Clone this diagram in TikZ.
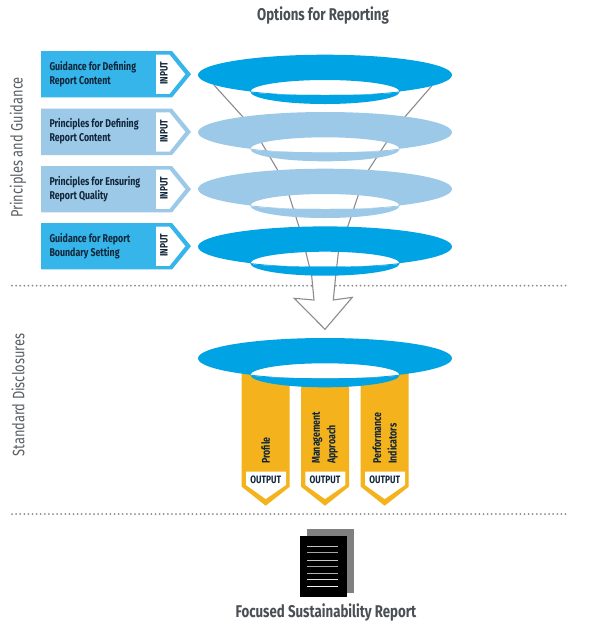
\documentclass[tikz,border=0pt]{standalone}
\usepackage{fontspec}
\setmainfont[FakeStretch=0.78]{Fira Sans}
\definecolor{ringblue}{HTML}{00A4E4}
\definecolor{ringlight}{HTML}{9DC9E8}
\definecolor{boxblue}{HTML}{35B5E9}
\definecolor{orangebar}{HTML}{F4B21C}
\definecolor{inktext}{HTML}{10263A}
\definecolor{headtext}{HTML}{4A4F55}
\definecolor{sidetext}{HTML}{5A5F64}
\definecolor{funnelgray}{HTML}{8C8C8C}
\definecolor{dotgray}{HTML}{8A8A8A}
\tikzset{
  boxtext/.style={font=\fontsize{11.3}{14}\selectfont\bfseries,text=inktext,align=left,anchor=west,inner sep=0pt},
  tagtext/.style={font=\fontsize{10.7}{10.7}\selectfont\bfseries,text=inktext,inner sep=0pt},
  headtextstyle/.style={font=\fontsize{17}{18}\selectfont\bfseries,text=headtext,inner sep=0pt},
  sidelabel/.style={font=\fontsize{16.5}{18}\selectfont,text=sidetext,rotate=90,inner sep=0pt},
  bartext/.style={font=\fontsize{11.3}{15.5}\selectfont\bfseries,text=inktext,rotate=90,anchor=west,align=left,inner sep=0pt},
  dotline/.style={draw=dotgray,line width=2pt,line cap=round,dash pattern=on 0pt off 4.1pt},
}
% \ringshape{centre y}{colour}
\newcommand{\ringshape}[2]{%
  \fill[#2,even odd rule] (325,#1) ellipse [x radius=127pt,y radius=20.3pt]
    (250.4,#1+16.7) arc[start angle=180,end angle=0,x radius=74.6pt,y radius=11.7pt]
    arc[start angle=0,end angle=-180,x radius=74.6pt,y radius=3.3pt] -- cycle;
  \fill[#2] (250.4,#1+16.7) arc[start angle=180,end angle=360,x radius=74.6pt,y radius=12.3pt]
    arc[start angle=360,end angle=180,x radius=74.6pt,y radius=3.3pt] -- cycle;
}
% \inputbox{top y}{colour}{name}{text}
\newcommand{\inputbox}[4]{%
  \fill[#2] (41,#1) -- (172,#1) -- (191,#1+23.2) -- (172,#1+46.4) -- (41,#1+46.4) -- cycle;
  \fill[white] (156,#1+3.7) -- (169.5,#1+3.7) -- (185.3,#1+23.2) -- (169.5,#1+42.9) -- (156,#1+42.9) -- cycle;
  \node[boxtext] (#3) at (49.3,#1+22.8) {#4};
  \node[tagtext,rotate=90] (#3tag) at (164,#1+22.5) {INPUT};
}
% \outputbar{left x}{name}{text}
\newcommand{\outputbar}[3]{%
  \fill[orangebar] (#1,368) -- (#1+48,368) -- (#1+48,486.7) -- (#1+24,505.7) -- (#1,486.7) -- cycle;
  \fill[white] (#1+4.3,471.7) -- (#1+44.3,471.7) -- (#1+44.3,485) -- (#1+24,499) -- (#1+4.3,485) -- cycle;
  \node[tagtext] (#2tag) at (#1+24,480) {OUTPUT};
  \node[bartext] (#2) at (#1+24,464) {#3};
}
\begin{document}
\begin{tikzpicture}[x=1pt,y=-1pt]
\useasboundingbox (0,0) rectangle (590,633);
\fill[white] (0,0) rectangle (590,633);
\node[headtextstyle] (title) at (323,15.5) {Options for Reporting};
\node[sidelabel] (sideA) at (18,147.5) {Principles and Guidance};
\node[sidelabel] (sideB) at (18,395) {Standard Disclosures};
\draw[dotline] (12,285.7) -- (568,285.7);
\draw[dotline] (12,514) -- (568,514);
% funnel
\draw[funnelgray,line width=1.1pt,fill=white,line join=miter]
  (214,85) -- (242.7,116.7) -- (261.7,143) -- (278,170.7) -- (289,195) -- (299,226.7)
  -- (306,252.7) -- (311.7,276) -- (314,300) -- (294.3,298.3) -- (325,329.3) -- (352.3,297.3)
  -- (333.3,300) -- (335.7,276) -- (338.3,253) -- (347.7,226.7) -- (358.3,195) -- (368,170.7)
  -- (386,143) -- (405,116.7) -- (431.7,86);
% rings
\ringshape{75}{ringblue}
\ringshape{132.3}{ringlight}
\ringshape{189}{ringlight}
\ringshape{246.7}{ringblue}
% input boxes
\inputbox{51}{boxblue}{boxA}{Guidance for Defining\\Report Content}
\inputbox{108.7}{ringlight}{boxB}{Principles for Defining\\Report Content}
\inputbox{166}{ringlight}{boxC}{Principles for Ensuring\\Report Quality}
\inputbox{223}{boxblue}{boxD}{Guidance for Report\\Boundary Setting}
% outputs
\outputbar{241.7}{barA}{Profile}
\outputbar{301}{barB}{Management\\Approach}
\outputbar{360.7}{barC}{Performance\\Indicators}
\fill[white] (250.4,375) arc[start angle=180,end angle=0,x radius=74.6pt,y radius=11.7pt]
    arc[start angle=0,end angle=-180,x radius=74.6pt,y radius=3.3pt] -- cycle;
\ringshape{358.3}{ringblue}
% document
\fill[black!50] (307.3,529) rectangle (354,593);
\fill[black] (300,536) rectangle (346.7,597.3);
\foreach \yy/\cc in {546.7/black!25,552.7/black!35,560/black!22,566.7/black!35,573.3/black!30,579.3/black!12,586.3/black!5}
  \draw[\cc,line width=1pt] (307,\yy) -- (338.3,\yy);
\node[headtextstyle] (caption) at (326,612) {Focused Sustainability Report};
\end{tikzpicture}
\end{document}
